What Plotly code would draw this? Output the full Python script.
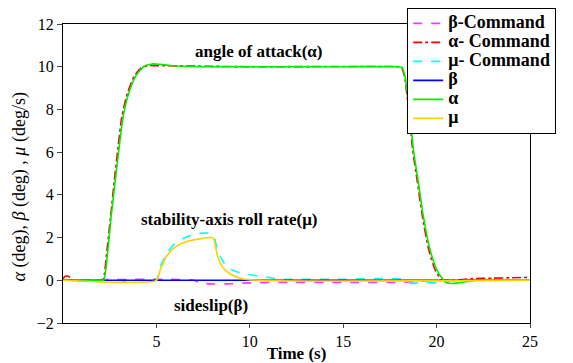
import plotly.graph_objects as go

# ---- data ----
t_beta_cmd = [0, 7.0, 7.35, 8.0, 9.0, 10.0, 12.0, 15.0, 18.0, 19.0, 19.5, 20.0, 25.0]
beta_cmd = [0, 0, -0.13, -0.17, -0.16, -0.12, -0.1, -0.1, -0.1, -0.05, -0.03, 0, 0]

t_alpha_cmd = [0, 0.1, 0.2, 0.35, 0.5, 2.0, 2.15, 2.35, 2.55, 2.75, 2.93, 3.15, 3.45, 3.8, 4.2,
               4.6, 5.0, 10.0, 18.0, 18.12, 18.28, 18.54, 18.72, 18.98, 19.24, 19.58, 19.92,
               20.25, 20.6, 21.0, 21.5, 22.0, 23.0, 24.0, 25.0]
alpha_cmd = [0.05, 0.18, 0.2, 0.15, 0, 0, 0.05, 1.4, 3.0, 4.7, 6.1, 7.67, 8.76, 9.54, 9.95,
             10.05, 10.05, 10.0, 10.0, 9.98, 9.54, 7.67, 6.1, 4.55, 2.99, 1.43, 0.49,
             0.05, -0.05, 0.0, 0.05, 0.08, 0.1, 0.12, 0.14]

t_mu_cmd = [0, 3.0, 3.5, 4.0, 4.98, 5.21, 5.57, 5.93, 6.46, 7.18, 7.71, 8.03, 8.25, 8.51, 8.87,
            9.49, 10.03, 10.9, 11.45, 12.0, 15.0, 18.2, 18.6, 19.2, 20.0, 20.5, 21.0, 25.0]
mu_cmd = [0, 0, -0.05, 0, 0, 0.65, 1.27, 1.66, 1.97, 2.18, 2.21, 2.14, 1.51, 0.96, 0.57,
          0.34, 0.26, 0.15, 0.06, 0.05, 0.05, 0.05, -0.15, -0.1, -0.12, -0.05, 0, 0]

t_beta = [0, 5.0, 10.0, 15.0, 20.0, 25.0]
beta = [0, 0, 0, 0, 0, 0]

t_alpha = [0, 2.0, 2.18, 2.4, 2.58, 2.8, 2.99, 3.22, 3.52, 3.88, 4.32, 4.77, 5.2, 5.75, 6.8,
           10.0, 15.0, 18.0, 18.14, 18.31, 18.58, 18.76, 19.03, 19.29, 19.65, 20.01, 20.36,
           20.5, 20.9, 21.5, 22.1, 25.0]
alpha = [0, 0, 0, 1.4, 3.0, 4.7, 6.1, 7.67, 8.76, 9.54, 10.01, 10.13, 10.11, 10.06, 10.01,
         10.0, 10.0, 10.0, 9.98, 9.54, 7.67, 6.1, 4.55, 2.99, 1.43, 0.49, 0.02,
         -0.1, -0.15, -0.08, 0, 0.02]

t_mu = [0, 5.0, 5.21, 5.48, 5.75, 6.1, 6.64, 7.35, 8.03, 8.16, 8.28, 8.51, 8.87, 9.49, 10.4, 25.0]
mu = [0, 0, 0.49, 1.04, 1.35, 1.61, 1.82, 1.94, 1.99, 1.58, 1.12, 0.65, 0.34, 0.1, 0.0, 0]

x_ticks = [5, 10, 15, 20, 25]
y_ticks = [-2, 0, 2, 4, 6, 8, 10, 12]

FONT = "Liberation Serif, Times New Roman, serif"


def leg(txt):
    return '<span style="font-size:18px"><b>' + txt + '</b></span>'


fig = go.Figure()
series = [
    (t_beta_cmd, beta_cmd, "β-Command", "#FF33FF", "dash"),
    (t_alpha_cmd, alpha_cmd, "α- Command", "#FF0000", "dashdot"),
    (t_mu_cmd, mu_cmd, "μ- Command", "#00FFFF", "dash"),
    (t_beta, beta, "β", "#0000FF", "solid"),
    (t_alpha, alpha, "α", "#00EE00", "solid"),
    (t_mu, mu, "μ", "#FFD000", "solid"),
]
for tx, vy, name, col, dash in series:
    fig.add_trace(go.Scatter(x=tx, y=vy, name=leg(name), mode="lines",
                             line=dict(color=col, width=1.6, dash=dash,
                                       shape="spline", smoothing=0.6)))

annots = [
    (10.5, 10.7, "angle of attack(α)"),
    (8.9, 2.83, "stability-axis roll rate(μ)"),
    (7.94, -1.19, "sideslip(β)"),
]
for ax_, ay_, txt in annots:
    fig.add_annotation(x=ax_, y=ay_, text="<b>" + txt + "</b>", showarrow=False,
                       font=dict(family=FONT, size=17, color="black"))

# y-axis title placed as rotated text (sits slightly below plot centre in the reference)
fig.add_annotation(xref="paper", yref="paper", x=-0.093, y=0.455, xanchor="center",
                   yanchor="middle", textangle=-90, showarrow=False,
                   text="<i>α</i> (deg), <i>β</i> (deg) , <i>μ</i> (deg/s)",
                   font=dict(family=FONT, size=18, color="black"))

fig.update_layout(
    width=573, height=363,
    margin=dict(l=63, r=43, t=24, b=40, autoexpand=False),
    paper_bgcolor="white", plot_bgcolor="white",
    font=dict(family=FONT, color="black"),
    showlegend=True,
    legend=dict(x=0.737, y=1.054, xanchor="left", yanchor="top",
                bgcolor="white", bordercolor="black", borderwidth=1,
                font=dict(family=FONT, size=11, color="black"),
                tracegroupgap=0),
    xaxis=dict(range=[0, 25], tickvals=x_ticks, ticks="outside", ticklen=4,
               showline=True, linecolor="black", linewidth=1, mirror=True,
               showgrid=False, zeroline=False,
               tickfont=dict(family=FONT, size=16, color="black"),
               tickprefix="<b>", ticksuffix="</b>",
               title=dict(text="<b>Time (s)</b>", standoff=0,
                          font=dict(family=FONT, size=17, color="black"))),
    yaxis=dict(range=[-2, 12], tickvals=y_ticks, ticks="outside", ticklen=5,
               showline=True, linecolor="black", linewidth=1, mirror=True,
               showgrid=False, zeroline=False,
               tickfont=dict(family=FONT, size=16, color="black"),
               tickprefix="<b>", ticksuffix="</b>"),
)

fig.write_html("out.html")
